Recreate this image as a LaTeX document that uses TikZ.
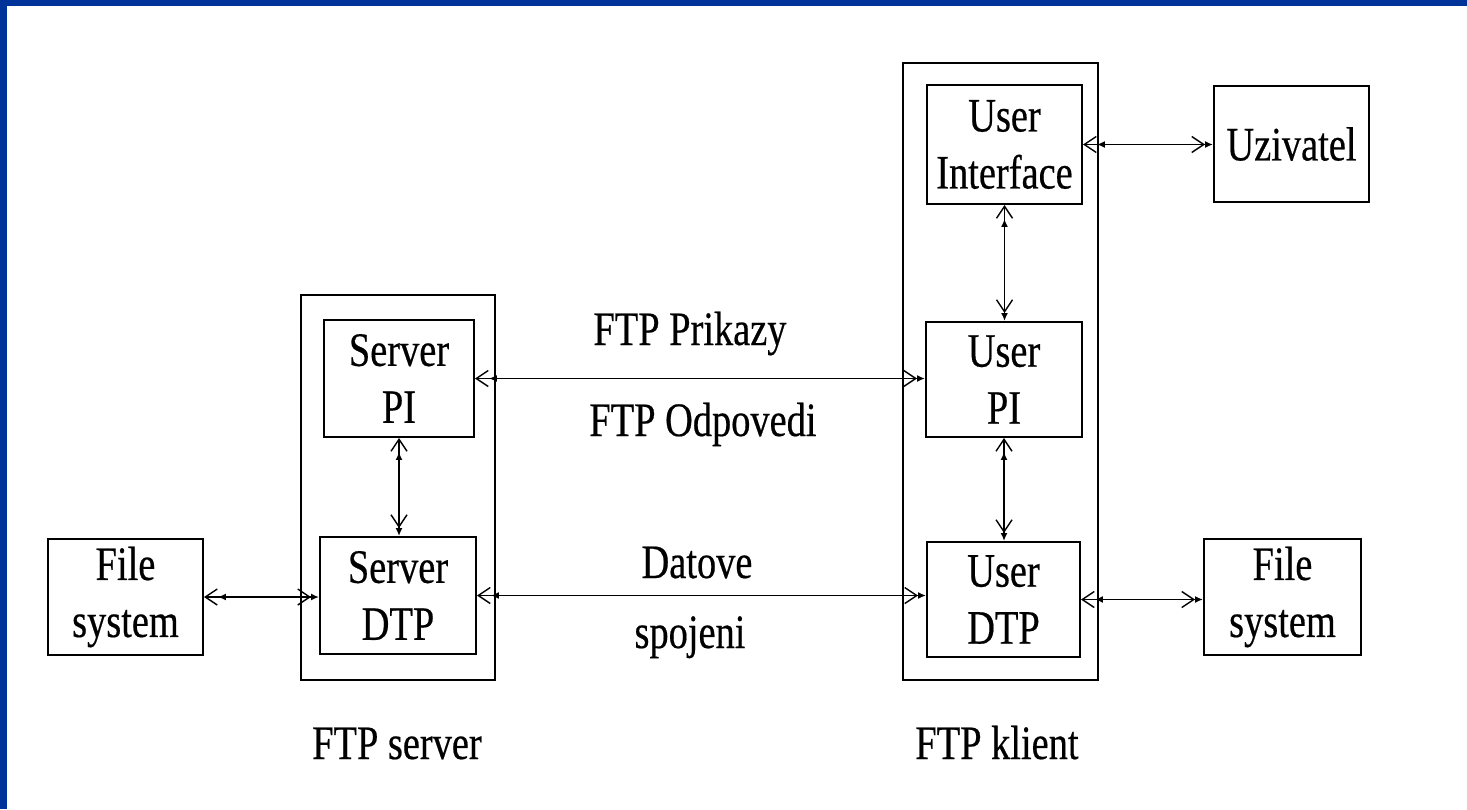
\documentclass[tikz,border=0pt]{standalone}
\usepackage{fontspec}
\setmainfont[FakeStretch=0.8,FakeBold=0.4]{Liberation Serif}
\usetikzlibrary{arrows.meta}
\definecolor{frameblue}{RGB}{0,51,153}
\tikzset{
  % barbed head with a small solid point, as drawn at both ends of every link
  headS/.tip={Latex[length=8pt,width=7pt] Straight Barb[length=12pt,width=16pt,line width=1.4pt]},
  headE/.tip={Straight Barb[length=12pt,width=16pt,line width=1.4pt] Latex[length=8pt,width=7pt]},
  txt/.style={font=\fontsize{48}{57}\selectfont, inner sep=0pt, align=center},
  blk/.style={txt, draw, line width=2pt},
  outer/.style={draw, line width=2pt, inner sep=0pt},
  link/.style={line width=1.8pt, headS-headE},
  lbl/.style={txt, anchor=base}
}
\begin{document}
\begin{tikzpicture}[x=1pt,y=-1pt]
  % page and blue frame along the top and left edges
  \fill[white] (0,0) rectangle (1467,809);
  \fill[frameblue] (0,0) rectangle (1467,6);
  \fill[frameblue] (0,0) rectangle (7,809);
  \useasboundingbox (0,0) rectangle (1467,809);

  % server side
  \node[outer, minimum width=194pt, minimum height=385pt] (srv) at (398,487.5) {};
  \node[blk, minimum width=150pt, minimum height=117pt] (spi) at (399,378.5) {Server\\PI};
  \node[blk, minimum width=156pt, minimum height=117pt] (sdtp) at (398,595.5) {Server\\DTP};
  \node[blk, minimum width=155pt, minimum height=116pt] (fsl) at (125.5,597) {File\\system};

  % client side
  \node[outer, minimum width=195pt, minimum height=617pt] (cli) at (1000.5,371.5) {};
  \node[blk, minimum width=155pt, minimum height=119pt] (ui) at (1004.5,144.5) {User\\Interface};
  \node[blk, minimum width=155pt, minimum height=116pt] (usr) at (1291.5,144) {Uzivatel};
  \node[blk, minimum width=156pt, minimum height=115pt] (upi) at (1004,379.5) {User\\PI};
  \node[blk, minimum width=153pt, minimum height=115pt] (udtp) at (1003.5,599.5) {User\\DTP};
  \node[blk, minimum width=157pt, minimum height=116pt] (fsr) at (1282.5,597) {File\\system};

  % connections
  \draw[link] (fsl.east) -- (fsl.east -| sdtp.west);
  \draw[link] (spi.south) -- (spi.south |- sdtp.north);
  \draw[link] (spi.east) -- (spi.east -| upi.west);
  \draw[link] (sdtp.east) -- (sdtp.east -| udtp.west);
  \draw[link] (ui.east) -- (ui.east -| usr.west);
  \draw[link] (ui.south) -- (ui.south |- upi.north);
  \draw[link] (upi.south) -- (upi.south |- udtp.north);
  \draw[link] (udtp.east) -- (udtp.east -| fsr.west);

  % labels
  \node[lbl] (prik) at (690,345) {FTP Prikazy};
  \node[lbl] (odp) at (703,436) {FTP Odpovedi};
  \node[lbl] (dat) at (697,578) {Datove};
  \node[lbl] (spoj) at (690,648) {spojeni};
  \node[lbl] (srvl) at (397,759) {FTP server};
  \node[lbl] (clil) at (997,759) {FTP klient};
\end{tikzpicture}
\end{document}
